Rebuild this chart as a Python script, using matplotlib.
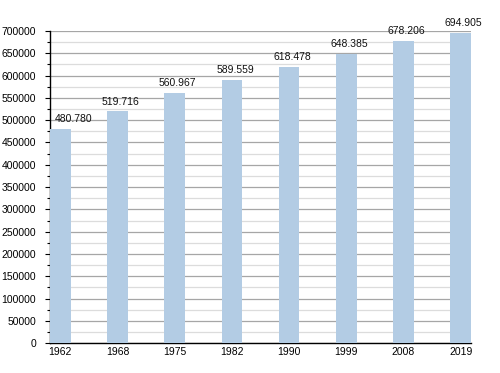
import matplotlib
matplotlib.use("Agg")
import matplotlib.pyplot as plt
from matplotlib.ticker import MultipleLocator

years = ["1962", "1968", "1975", "1982", "1990", "1999", "2008", "2019"]
population = [480780, 519716, 560967, 589559, 618478, 648385, 678206, 694905]
value_labels = ["480.780", "519.716", "560.967", "589.559", "618.478", "648.385", "678.206", "694.905"]

plt.rcParams['font.family'] = ['Liberation Sans', 'DejaVu Sans']

fig = plt.figure(figsize=(5, 3.73), dpi=100)
ax = fig.add_axes([0.100, 0.080, 0.842, 0.837])

x = list(range(len(years)))
ax.bar(x, population, width=0.36, color='#b3cce4', zorder=3)
for i, (xi, v, lab) in enumerate(zip(x, population, value_labels)):
    if i == 0:
        ax.annotate(lab, (xi, v), xytext=(-4.3, 3.5), textcoords='offset points',
                    ha='left', va='bottom', fontsize=7.5, color='#111111', zorder=4)
    else:
        ax.annotate(lab, (xi, v), xytext=(2.2, 3.5), textcoords='offset points',
                    ha='center', va='bottom', fontsize=7.5, color='#111111', zorder=4)

ax.set_xlim(-0.18, 7.18)
ax.set_ylim(0, 700000)
ax.yaxis.set_major_locator(MultipleLocator(50000))
ax.yaxis.set_minor_locator(MultipleLocator(25000))
ax.grid(axis='y', which='major', color='#a6a6a6', linewidth=0.9, zorder=1)
ax.grid(axis='y', which='minor', color='#dcdcdc', linewidth=0.9, zorder=1)
ax.set_xticks(x)
ax.set_xticklabels(years)
ax.tick_params(axis='x', length=0, pad=3, labelsize=7.5)
ax.tick_params(axis='y', which='major', length=3.6, width=0.8, pad=6.5, labelsize=7.5, direction='out')
ax.tick_params(axis='y', which='minor', length=2.2, width=0.8, direction='out')
ax.spines['top'].set_visible(False)
ax.spines['right'].set_visible(False)
ax.spines['left'].set_linewidth(1.0)
ax.spines['bottom'].set_linewidth(1.0)
ax.set_axisbelow(True)

fig.savefig("out.png", dpi=100)
